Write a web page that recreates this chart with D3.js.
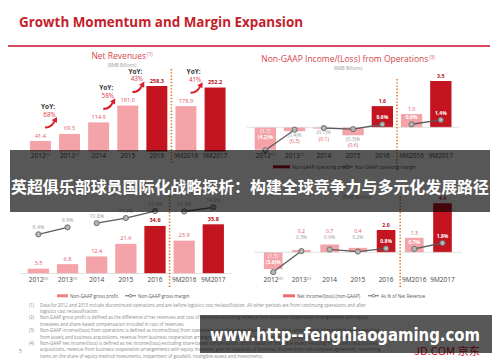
<!DOCTYPE html>
<html>
<head>
<meta charset="utf-8">
<script src="https://cdn.jsdelivr.net/npm/d3@7"></script>
<style>
  body { margin: 0; background: #fff; }
  svg { display: block; font-family: 'Open Sans', 'Liberation Sans', sans-serif; }
</style>
</head>
<body>
<svg id="chart" width="500" height="362"></svg>
<script>
const periods = ['2012', '2013', '2014', '2015', '2016', '9M2016', '9M2017'];
const periodNotes = ['(1)', '(1)', '', '', '', '', ''];
const darkPeriods = ['2016', '9M2017'];
const lineGroups = [['2012', '2013'], ['2014', '2015', '2016'], ['9M2016', '9M2017']];

const netRevenues = [41.4, 69.3, 114.9, 181.0, 258.3, 178.9, 252.2];
const yoyPeriods = ['2013', '2015', '2016', '9M2017'];
const yoyGrowth = ['68%', '58%', '43%', '41%'];

const opIncome = [-1.7, -0.3, -0.1, -0.6, 1.6, 1.0, 3.5];
const opMargin = [-4.2, -0.4, -0.1, -0.3, 0.6, 0.6, 1.4];

const grossProfit = [3.5, 6.8, 12.4, 21.6, 34.6, 23.9, 35.8];
const grossMargin = [8.4, 9.9, 10.8, 11.9, 13.4, 13.3, 14.2];

const netIncome = [-1.5, 0.2, 0.7, 0.4, 2.0, 1.3, 4.4];
const netMargin = [-3.6, 0.3, 0.6, 0.2, 0.8, 0.7, 1.8];

const footnotes = [
  ['(1)', 'Data for 2012 and 2013 include discontinued operations and are before logistics cost reclassification. All other periods are from continuing operations and after',
    'logistics cost reclassification.'],
  ['(2)', 'Non-GAAP gross profit is defined as the difference of net revenues and cost of revenues excluding revenue from business cooperation arrangements with equity',
    'investees and share-based compensation included in cost of revenues.'],
  ['(3)', 'Non-GAAP income/(loss) from operations is defined as income/(loss) from operations excluding share-based compensation, amortization of intangible assets resulting',
    'from assets and business acquisitions, revenue from business cooperation arrangements with equity investees and income from non-compete agreement.'],
  ['(4)', 'Non-GAAP net income/(loss) is defined as net income/(loss) excluding share-based compensation, amortization of intangible assets resulting from assets and business',
    'acquisitions, revenue from business cooperation arrangements with equity investees, gain on disposals of business, income from non-compete agreement, reconciling',
    'items on the share of equity method investments, impairment of goodwill, intangible assets and investments.']
];

const RED = '#c41e2a';
const PINK = '#f4a3a8';
const DARK = '#c3141f';
const LABEL_LIGHT = '#e0535d';
const LABEL_DARK = '#b5121d';
const GRAY_TEXT = '#9a9a9a';
const SEP = '#e07b20';

const svg = d3.select('#chart');

const fmtValue = v => v < 0 ? `(${Math.abs(v).toFixed(1)})` : v.toFixed(1);
const fmtPct = v => v < 0 ? `(${Math.abs(v).toFixed(1)})%` : `${v.toFixed(1)}%`;
const isDark = p => darkPeriods.includes(p);

// page header
svg.append('text')
  .attr('x', 19).attr('y', 27)
  .attr('font-size', 15).attr('font-weight', 700)
  .attr('fill', RED)
  .attr('textLength', 284).attr('lengthAdjust', 'spacingAndGlyphs')
  .text('Growth Momentum and Margin Expansion');
svg.append('line')
  .attr('x1', 8).attr('x2', 490).attr('y1', 46).attr('y2', 46)
  .attr('stroke', '#c8102e').attr('stroke-width', 1.6);

function chartTitle(cx, y, title, note) {
  if (title) {
    const t = svg.append('text')
      .attr('x', cx).attr('y', y)
      .attr('text-anchor', 'middle')
      .attr('font-size', 8.5).attr('fill', '#d4454d')
      .text(title);
    t.append('tspan').attr('dy', -3).attr('font-size', 4.5).text(' ' + note);
  }
  svg.append('text')
    .attr('x', cx).attr('y', y + 8)
    .attr('text-anchor', 'middle')
    .attr('font-size', 4.5).attr('fill', GRAY_TEXT)
    .text('(RMB Billions)');
}

function makeX(range, pad) {
  return d3.scaleBand().domain(periods).range(range).paddingInner(pad).paddingOuter(pad);
}

function drawAxis(g, x, axisY, pad) {
  const axis = g.append('g')
    .attr('transform', `translate(0,${axisY})`)
    .call(d3.axisBottom(x).tickSize(0).tickPadding(pad));
  axis.select('.domain').remove();
  axis.selectAll('text')
    .attr('font-size', 6.5).attr('fill', '#444')
    .attr('font-family', "'Open Sans', sans-serif")
    .each(function (p) {
      const note = periodNotes[periods.indexOf(p)];
      if (note) {
        d3.select(this).append('tspan').attr('dy', '-0.6em').attr('font-size', 3.8).text(note);
      }
    });
}

function drawSeparator(g, x, y1, y2) {
  const sx = (x('2016') + x.bandwidth() + x('9M2016')) / 2;
  g.append('line')
    .attr('x1', sx).attr('x2', sx).attr('y1', y1).attr('y2', y2)
    .attr('stroke', SEP).attr('stroke-width', 1.6)
    .attr('stroke-dasharray', '1.4,1.8');
}

function drawBars(g, x, y, values) {
  g.selectAll(null)
    .data(values)
    .join('rect')
    .attr('x', (d, i) => x(periods[i]))
    .attr('width', x.bandwidth())
    .attr('y', d => Math.min(y(d), y(0)))
    .attr('height', d => Math.abs(y(d) - y(0)))
    .attr('fill', (d, i) => isDark(periods[i]) ? DARK : PINK);
}

function drawMarginLine(g, x, ym, margins) {
  const cx = p => x(p) + x.bandwidth() / 2;
  const line = d3.line().x(p => cx(p)).y(p => ym(margins[periods.indexOf(p)]));
  lineGroups.forEach(group => {
    g.append('path')
      .attr('d', line(group))
      .attr('fill', 'none').attr('stroke', '#5a5a5a').attr('stroke-width', 1.3);
  });
  g.selectAll(null)
    .data(margins)
    .join('circle')
    .attr('cx', (d, i) => cx(periods[i]))
    .attr('cy', d => ym(d))
    .attr('r', 2.6)
    .attr('fill', '#b5b5b5').attr('stroke', '#666').attr('stroke-width', 0.9);
}

// labels for charts with bars that can go below zero
function drawSignedLabels(g, x, y, ym, values, margins) {
  values.forEach((v, i) => {
    const p = periods[i];
    const cx = x(p) + x.bandwidth() / 2;
    const h = Math.abs(y(v) - y(0));
    let vy, my, vFill, mFill;
    if (v < 0 && h > 15) {
      vy = y(0) + 5.5; my = vy + 6; vFill = '#fff'; mFill = '#fff';
    } else if (v < 0) {
      my = y(v) + 5.5; vy = my + 6.5; vFill = LABEL_LIGHT; mFill = GRAY_TEXT;
    } else if (h > 12) {
      vy = y(v) - 3; my = ym(margins[i]) - 5; vFill = isDark(p) ? LABEL_DARK : LABEL_LIGHT; mFill = '#fff';
    } else {
      my = y(0) - 13; vy = my - 6; vFill = LABEL_LIGHT; mFill = GRAY_TEXT;
    }
    g.append('text').attr('x', cx).attr('y', vy).attr('text-anchor', 'middle')
      .attr('font-size', 5.2).attr('font-weight', isDark(p) ? 700 : 400).attr('fill', vFill)
      .text(fmtValue(v));
    g.append('text').attr('x', cx).attr('y', my).attr('text-anchor', 'middle')
      .attr('font-size', 5).attr('font-weight', mFill === '#fff' ? 700 : 400).attr('fill', mFill)
      .text(fmtPct(margins[i]));
  });
}

function valueLabels(g, x, y, values) {
  g.selectAll(null)
    .data(values)
    .join('text')
    .attr('x', (d, i) => x(periods[i]) + x.bandwidth() / 2)
    .attr('y', d => y(d) - 3.5)
    .attr('text-anchor', 'middle')
    .attr('font-size', 5.6)
    .attr('font-weight', (d, i) => isDark(periods[i]) ? 700 : 400)
    .attr('fill', (d, i) => isDark(periods[i]) ? LABEL_DARK : LABEL_LIGHT)
    .text(d => d.toFixed(1));
}

function legend(g, x0, y0, barColor, barW, barText, lineX, lineText) {
  g.append('rect').attr('x', x0).attr('y', y0 - 3.2).attr('width', barW).attr('height', 3)
    .attr('fill', barColor);
  g.append('text').attr('x', x0 + barW + 2).attr('y', y0).attr('font-size', 4.6).attr('fill', '#555')
    .text(barText);
  g.append('line').attr('x1', lineX).attr('x2', lineX + 11).attr('y1', y0 - 1.7).attr('y2', y0 - 1.7)
    .attr('stroke', '#555').attr('stroke-width', 0.9);
  g.append('circle').attr('cx', lineX + 5.5).attr('cy', y0 - 1.7).attr('r', 1.5)
    .attr('fill', '#fff').attr('stroke', '#555').attr('stroke-width', 0.7);
  g.append('text').attr('x', lineX + 13).attr('y', y0).attr('font-size', 4.6).attr('fill', '#555')
    .text(lineText);
}

// ---- Net revenues (top left)
{
  const g = svg.append('g');
  const x = makeX([21.8, 233.7], 0.28);
  const y = d3.scaleLinear().domain([0, 258.3]).range([151.5, 86]);
  chartTitle(122, 59, 'Net Revenues', '(1)');
  drawBars(g, x, y, netRevenues);
  valueLabels(g, x, y, netRevenues);
  drawSeparator(g, x, 69, 163);
  drawAxis(g, x, 151.5, 2);
  const arrow = 'M0,7 C4,7 7,5 8.5,1.5 L6.5,0.8 L12,-2.5 L11.8,3.6 L10,2.6 C8,7 4.5,9.2 0,9 Z';
  yoyPeriods.forEach((p, k) => {
    const i = periods.indexOf(p);
    const ax = x(p) - 11;
    const ay = y(netRevenues[i - 1]) - 32;
    g.append('text').attr('x', ax).attr('y', ay).attr('text-anchor', 'middle')
      .attr('font-size', 6.5).attr('font-weight', 700).attr('fill', '#333').text('YoY:');
    g.append('text').attr('x', ax + 1.5).attr('y', ay + 7.5).attr('text-anchor', 'middle')
      .attr('font-size', 6.3).attr('fill', '#e0353f').text(yoyGrowth[k]);
    g.append('path').attr('d', arrow)
      .attr('transform', `translate(${ax - 3},${ay + 10.5})`)
      .attr('fill', '#d81e28');
  });
}

// ---- Non-GAAP operating income (top right)
{
  const g = svg.append('g');
  const x = makeX([246.8, 459.4], 0.27);
  const y = d3.scaleLinear().domain([0, 3.5]).range([127.3, 81]);
  const ym = d3.scaleLinear().domain([0, 1.4]).range([127.5, 119.9]);
  chartTitle(348, 62, 'Non-GAAP Income/(Loss) from Operations', '(3)');
  drawBars(g, x, y, opIncome);
  g.append('line').attr('x1', x.range()[0]).attr('x2', x.range()[1]).attr('y1', y(0)).attr('y2', y(0))
    .attr('stroke', '#d5d5d5').attr('stroke-width', 0.7);
  drawSeparator(g, x, 79, 172);
  drawMarginLine(g, x, ym, opMargin);
  drawSignedLabels(g, x, y, ym, opIncome, opMargin);
  drawAxis(g, x, 151.5, 2);
  legend(g, 273, 168.5, '#a50f18', 17, 'Non-GAAP operating profit', 342, 'Non-GAAP operating margin');
}

// ---- Non-GAAP gross profit (bottom left)
{
  const g = svg.append('g');
  const x = makeX([19.9, 231.8], 0.27);
  const y = d3.scaleLinear().domain([0, 35.8]).range([273.5, 224.3]);
  const ym = d3.scaleLinear().domain([0, 14.2]).range([273.5, 207.3]);
  drawBars(g, x, y, grossProfit);
  g.append('line').attr('x1', x.range()[0]).attr('x2', x.range()[1]).attr('y1', y(0)).attr('y2', y(0))
    .attr('stroke', '#d5d5d5').attr('stroke-width', 0.7);
  valueLabels(g, x, y, grossProfit);
  drawSeparator(g, x, 196, 288);
  drawMarginLine(g, x, ym, grossMargin);
  g.selectAll(null)
    .data(grossMargin)
    .join('text')
    .attr('x', (d, i) => x(periods[i]) + x.bandwidth() / 2)
    .attr('y', d => ym(d) - 5)
    .attr('text-anchor', 'middle')
    .attr('font-size', 5.2).attr('fill', GRAY_TEXT)
    .text(d => fmtPct(d));
  drawAxis(g, x, 273.5, 4);
  legend(g, 57, 297.5, '#ee7f87', 11, 'Non-GAAP gross profit', 125, 'Non-GAAP gross margin');
}

// ---- Non-GAAP net income (bottom right)
{
  const g = svg.append('g');
  const x = makeX([254.3, 461.4], 0.34);
  const y = d3.scaleLinear().domain([0, 2.0]).range([252.3, 230]);
  const ym = d3.scaleLinear().domain([0, 1.8]).range([252.7, 243]);
  chartTitle(357, 190.5, null, null);
  drawBars(g, x, y, netIncome);
  g.append('line').attr('x1', x.range()[0]).attr('x2', x.range()[1]).attr('y1', y(0)).attr('y2', y(0))
    .attr('stroke', '#d5d5d5').attr('stroke-width', 0.7);
  drawSeparator(g, x, 196, 288);
  drawMarginLine(g, x, ym, netMargin);
  drawSignedLabels(g, x, y, ym, netIncome, netMargin);
  drawAxis(g, x, 273.5, 4);
  legend(g, 283, 297.5, '#ee6a74', 12, 'Net income/(loss) (non-GAAP)', 368, 'As % of Net Revenue');
}

// ---- footnotes
{
  const g = svg.append('g').attr('font-size', 4.4).attr('fill', '#8a8a8a');
  let ty = 306.5;
  footnotes.forEach(([num, ...lines]) => {
    g.append('text').attr('x', 29).attr('y', ty).text(num);
    lines.forEach(l => {
      g.append('text').attr('x', 40).attr('y', ty).text(l);
      ty += 6.4;
    });
  });
  g.append('text').attr('x', 19).attr('y', 353).attr('font-size', 5).text('5');
  svg.append('text').attr('x', 414).attr('y', 355)
    .attr('font-size', 10).attr('fill', '#d0121b')
    .attr('font-family', "'Noto Sans CJK SC', sans-serif")
    .attr('textLength', 66).attr('lengthAdjust', 'spacingAndGlyphs')
    .text('JD.COM 京东');
}

// ---- overlays
svg.append('rect').attr('x', 10).attr('y', 150).attr('width', 480).attr('height', 62)
  .attr('fill', 'rgba(0,0,0,0.66)');
svg.append('text')
  .attr('x', 250).attr('y', 193)
  .attr('text-anchor', 'middle')
  .attr('font-family', "'Noto Sans CJK SC', sans-serif")
  .attr('font-size', 16).attr('font-weight', 700).attr('fill', '#fff')
  .attr('textLength', 478).attr('lengthAdjust', 'spacingAndGlyphs')
  .text('英超俱乐部球员国际化战略探析：构建全球竞争力与多元化发展路径');

svg.append('rect').attr('x', 200).attr('y', 315).attr('width', 292).attr('height', 38)
  .attr('fill', 'rgba(0,0,0,0.66)');
svg.append('text')
  .attr('x', 210).attr('y', 341)
  .attr('font-family', "'DejaVu Sans', sans-serif")
  .attr('font-size', 18).attr('font-weight', 700).attr('fill', '#fff')
  .attr('textLength', 270).attr('lengthAdjust', 'spacingAndGlyphs')
  .text('www.http--fengniaogaming.com');
</script>
</body>
</html>
